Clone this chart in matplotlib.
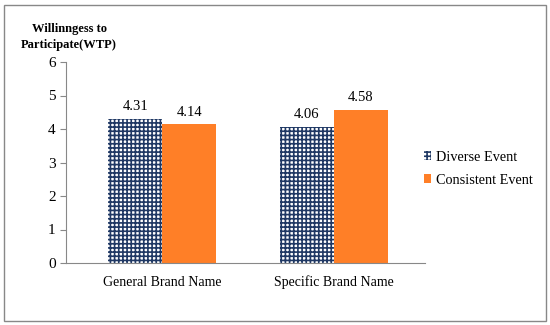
import matplotlib.pyplot as plt
import numpy as np
from matplotlib.patches import Rectangle

plt.rcParams['font.family'] = ['Liberation Serif', 'DejaVu Serif']
plt.rcParams['hatch.linewidth'] = 1.2

# data
categories = ['General Brand Name', 'Specific Brand Name']
diverse = [4.31, 4.06]
consistent = [4.14, 4.58]
series_names = ['Diverse Event', 'Consistent Event']

fig = plt.figure(figsize=(5.5, 3.25), dpi=100)
ax = fig.add_axes([66/550, 1-263/325, (425-66)/550, (263-62)/325])

x = np.arange(len(categories))
w = 0.315
b1 = ax.bar(x - w/2, diverse, w, color='white', edgecolor='#1f3864',
            hatch='++++', linewidth=0, label=series_names[0])
b2 = ax.bar(x + w/2, consistent, w, color='#ff7f27', linewidth=0,
            label=series_names[1])

for bars in (b1, b2):
    for r in bars:
        ax.text(r.get_x() + r.get_width()/2, r.get_height() + 0.17,
                '%.2f' % r.get_height(), ha='center', va='bottom', fontsize=10.5)

ax.set_ylim(0, 6)
ax.set_xlim(-0.56, 1.53)
ax.set_xticks(x)
ax.set_xticklabels(categories, fontsize=10)
ax.tick_params(axis='x', length=0, pad=9)
ax.tick_params(axis='y', labelsize=11, color='#888888', length=4)
for s in ['top', 'right']:
    ax.spines[s].set_visible(False)
ax.spines['left'].set_color('#888888')
ax.spines['bottom'].set_color('#888888')

fig.text(69/550, 1-37/325, 'Willinngess to\nParticipate(WTP)', ha='center',
         va='center', fontsize=9, fontweight='bold', linespacing=1.35)

ax.legend(loc='center left', bbox_to_anchor=(0.962, 0.47), frameon=False,
          fontsize=10.3, handlelength=0.5, handleheight=0.6, handletextpad=0.35,
          labelspacing=0.7)

fig.patches.append(Rectangle((4/550, 4/325), 542/550, 316/325,
                             transform=fig.transFigure, fill=False,
                             edgecolor='#888888', linewidth=1))

fig.savefig('out.png', dpi=100)
